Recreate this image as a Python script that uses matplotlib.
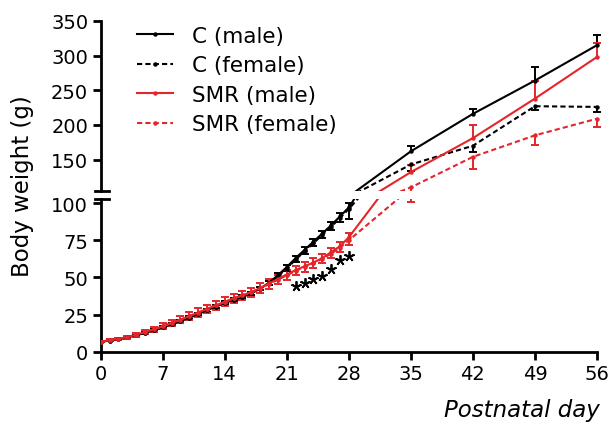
import matplotlib.pyplot as plt
from matplotlib.lines import Line2D

plt.rcParams['font.family'] = ['DejaVu Sans']

# postnatal days: daily to 28, then weekly
days = list(range(29)) + [35, 42, 49, 56]

# body weight (g)
c_male = [7, 7.6, 8.5, 9.8, 11.2, 12.8, 14.6, 16.6, 18.7, 20.8, 23.1, 25.5, 28, 30.5, 33,
          35, 37, 39.5, 42.5, 46.5, 51.5, 57, 63, 68.5, 74, 79.5, 85, 91, 97,
          162, 216, 264, 315]
c_female = [7, 7.6, 8.5, 9.8, 11.2, 12.8, 14.6, 16.6, 18.7, 20.8, 23.1, 25.5, 28, 30.5, 33,
            35, 37, 39.5, 42.5, 46, 51, 56, 62, 67.5, 73, 78.5, 84, 90, 96,
            143, 170, 227, 226]
smr_male = [7, 7.8, 8.8, 10, 11.6, 13.4, 15.2, 17.2, 19.5, 21.7, 24, 26.5, 29, 31.3, 33.6,
            36, 38, 40.2, 43, 46, 49, 52, 55, 57.5, 60, 63, 67, 71, 77,
            132, 181, 238, 298]
smr_female = [7, 7.8, 8.8, 10, 11.6, 13.4, 15.2, 17.2, 19.5, 21.7, 24, 26.5, 29, 31.3, 33.6,
              36, 38, 40, 42.5, 45.5, 48.5, 51.5, 54.5, 57, 59.5, 62.5, 66, 70, 75,
              110, 154, 185, 209]

# SEM: males drawn above the mean, females below
c_male_err = [0.3, 0.3, 0.4, 0.4, 0.5, 0.5, 0.6, 0.6, 0.7, 0.7, 0.8, 0.8, 0.9, 0.9, 1,
              1, 1, 1.1, 1.2, 1.3, 1.4, 1.5, 1.6, 1.7, 1.8, 2, 2.2, 2.5, 3,
              7, 7, 19, 15]
c_female_err = [0.3, 0.3, 0.4, 0.4, 0.5, 0.5, 0.6, 0.6, 0.7, 0.7, 0.8, 0.8, 0.9, 0.9, 1,
                1, 1, 1.1, 1.2, 1.3, 1.4, 1.5, 1.6, 1.7, 1.8, 2, 2.2, 2.5, 7,
                9, 9, 6, 7]
smr_male_err = [0.5, 0.6, 0.8, 1, 1.3, 1.6, 1.9, 2.1, 2.3, 2.5, 2.6, 2.7, 2.8, 2.9, 3,
                3, 3, 3, 3, 3, 3, 3, 3, 3, 3, 3, 3, 3, 3,
                10, 19, 26, 20]
smr_female_err = [0.5, 0.6, 0.8, 1, 1.3, 1.6, 1.9, 2.1, 2.3, 2.5, 2.6, 2.7, 2.8, 2.9, 3,
                  3, 3, 3, 3, 3, 3, 3, 3, 3, 3, 3, 3, 3, 3,
                  9, 17, 14, 12]

# significance stars (SMR vs C males)
star_days = [22, 23, 24, 25, 26, 27, 28]
star_y = [44, 46, 49, 51, 56, 61.5, 64.5]

red = '#e4262b'
series = [
    ('C (male)', c_male, c_male_err, 'k', '-', 1),
    ('C (female)', c_female, c_female_err, 'k', '--', -1),
    ('SMR (male)', smr_male, smr_male_err, red, '-', 1),
    ('SMR (female)', smr_female, smr_female_err, red, '--', -1),
]

fig = plt.figure(figsize=(6.1, 4.31), dpi=100)
ax_lo = fig.add_axes([0.165, 0.181, 0.8253, 0.355])
ax_hi = fig.add_axes([0.165, 0.5552, 0.8253, 0.394])

for ax in (ax_lo, ax_hi):
    for label, y, err, col, ls, sign in series:
        ends = [v + sign * e for v, e in zip(y, err)]
        ax.vlines(days, y, ends, color=col, lw=1.4, zorder=2)
        ax.plot(days, ends, ls='none', marker='_', ms=6, mew=1.4, color=col, zorder=2)
        line, = ax.plot(days, y, color=col, lw=1.5, marker='o', ms=2.2, zorder=3)
        if ls == '--':
            line.set_dashes((2.5, 1.5))
    ax.set_xlim(0, 56.8)
    ax.spines['top'].set_visible(False)
    ax.spines['right'].set_visible(False)
    ax.spines['left'].set_linewidth(2)
    ax.tick_params(axis='y', direction='out', length=6, width=2, labelsize=14, pad=3)

ax_lo.plot(star_days, star_y, ls='none', marker=(5, 2, 0), ms=7.5, mew=1.3, color='k')

ax_lo.set_ylim(0, 102.7)
ax_lo.set_yticks([0, 25, 50, 75, 100])
ax_lo.set_xticks([0, 7, 14, 21, 28, 35, 42, 49, 56])
ax_lo.spines['bottom'].set_linewidth(2)
ax_lo.spines['bottom'].set_bounds(0, 56)
ax_lo.tick_params(axis='x', direction='out', length=6, width=2, labelsize=14, pad=3)

ax_hi.set_ylim(105.2, 350)
ax_hi.set_yticks([150, 200, 250, 300, 350])
ax_hi.spines['bottom'].set_visible(False)
ax_hi.set_xticks([])

# axis break marks
ax_lo.plot([-0.0113, 0.0164], [1, 1], transform=ax_lo.transAxes, color='k', lw=2, clip_on=False)
ax_hi.plot([-0.0113, 0.0164], [0, 0], transform=ax_hi.transAxes, color='k', lw=2, clip_on=False)

handles = []
for label, y, err, col, ls, sign in series:
    h = Line2D([], [], color=col, lw=1.5, marker='o', ms=2.2, label=label)
    if ls == '--':
        h.set_dashes((2.5, 1.5))
    handles.append(h)
fig.legend(handles=handles, loc='upper left', bbox_to_anchor=(137 / 610, 1 - 27 / 431),
           frameon=False, fontsize=15.5, handlelength=1.65, handletextpad=0.9,
           labelspacing=0.44, borderpad=0, borderaxespad=0)

fig.text(23 / 610, 1 - 186 / 431, 'Body weight (g)', rotation=90, ha='center', va='center', fontsize=16.5)
fig.text(600 / 610, 1 - 411 / 431, 'Postnatal day', ha='right', va='center', fontsize=16.5, style='italic')

fig.savefig('out.png', dpi=100)
